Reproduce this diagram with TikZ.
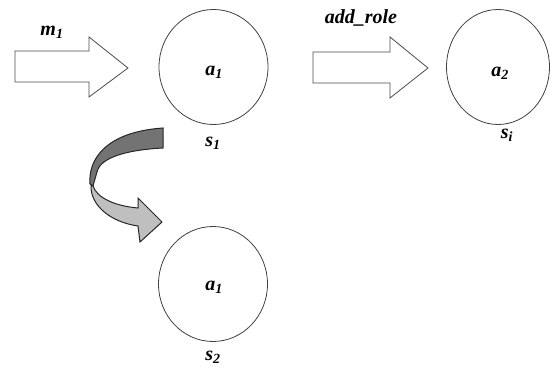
\documentclass[tikz,border=0pt]{standalone}
\usepackage{fontspec}
\setmainfont{Liberation Serif}
\begin{document}
\begin{tikzpicture}[x=1pt,y=-1pt,
  state/.style={draw=black!75,line width=0.8pt,ellipse,minimum width=109pt,minimum height=115pt,inner sep=0pt},
  lbl/.style={font=\fontsize{20}{20}\selectfont\bfseries\itshape,inner sep=0pt},
  blockarrow/.style={draw=black!70,line width=0.8pt,fill=white,line join=miter},
  darkband/.style={draw=black!85,line width=1pt,fill=black!55},
  lightband/.style={draw=black!85,line width=1pt,fill=black!25}]
\usetikzlibrary{shapes.geometric}
\useasboundingbox (0,0) rectangle (550,371);
% states
\node[state] (c1) at (213.5,67) {};
\node[state,minimum width=103pt] (c2) at (498,67) {};
\node[state] (c3) at (213,284) {};
\node[lbl] (a1) at (214,72) {a\textsubscript{1}};
\node[lbl] (a2) at (500,73) {a\textsubscript{2}};
\node[lbl] (a3) at (214,287) {a\textsubscript{1}};
\node[lbl] (s1) at (213,143) {s\textsubscript{1}};
\node[lbl] (si) at (507,135) {s\textsubscript{i}};
\node[lbl] (s2) at (213,357) {s\textsubscript{2}};
% block arrows
\draw[blockarrow] (15,51) -- (89,51) -- (89,37) -- (128,68) -- (89,97) -- (89,82) -- (15,82) -- cycle;
\draw[blockarrow] (313,52) -- (390,52) -- (390,37) -- (428,68) -- (390,98) -- (390,83) -- (313,83) -- cycle;
\node[lbl] (m1) at (52,32) {m\textsubscript{1}};
\node[lbl] (addrole) at (361,18) {add\_role};
% curved ribbon arrow
\draw[lightband] (91,185) .. controls (90,205) and (110,222) .. (138,226)
  -- (140,242) -- (162,222) -- (138,198) -- (138,208)
  .. controls (115,206) and (97,198) .. (93,186) -- cycle;
\draw[darkband] (163,128) -- (163,148)
  .. controls (125,150) and (100,158) .. (97,172)
  -- (93,186) -- (90,184)
  .. controls (88,160) and (105,132) .. (163,128) -- cycle;
\end{tikzpicture}
\end{document}
